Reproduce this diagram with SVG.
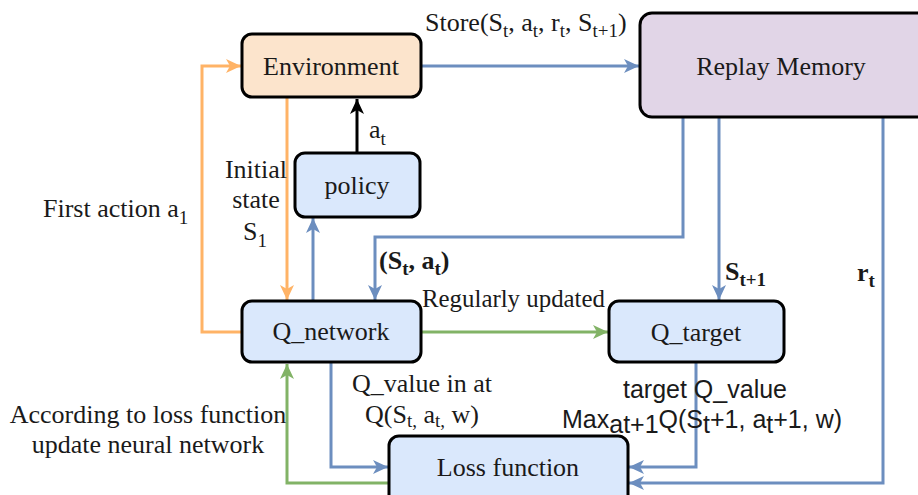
<svg xmlns="http://www.w3.org/2000/svg" width="918" height="495" viewBox="0 0 918 495">
<defs>
<style>
.box{stroke:#000;stroke-width:3}
.t{font-family:"Liberation Serif","Times New Roman",serif;font-size:26px;fill:#1a1a1a}
.s{font-family:"Liberation Sans",Arial,sans-serif;font-size:25px;fill:#1a1a1a}
.b{font-weight:bold}
.sub{font-size:19px}
.blue{stroke:#6c8ebf;stroke-width:3;fill:none}
.orange{stroke:#ffb366;stroke-width:3;fill:none}
.green{stroke:#82b366;stroke-width:3;fill:none}
.black{stroke:#000;stroke-width:3;fill:none}
</style>
<marker id="ab" markerUnits="userSpaceOnUse" markerWidth="16" markerHeight="14" refX="15" refY="7" orient="auto"><path d="M0,0 L15,7 L0,14 L4,7 Z" fill="#6c8ebf"/></marker>
<marker id="ao" markerUnits="userSpaceOnUse" markerWidth="16" markerHeight="14" refX="15" refY="7" orient="auto"><path d="M0,0 L15,7 L0,14 L4,7 Z" fill="#ffb366"/></marker>
<marker id="ag" markerUnits="userSpaceOnUse" markerWidth="16" markerHeight="14" refX="15" refY="7" orient="auto"><path d="M0,0 L15,7 L0,14 L4,7 Z" fill="#82b366"/></marker>
<marker id="ak" markerUnits="userSpaceOnUse" markerWidth="16" markerHeight="14" refX="15" refY="7" orient="auto"><path d="M0,0 L15,7 L0,14 L4,7 Z" fill="#000"/></marker>
</defs>
<rect width="918" height="495" fill="#fff"/>

<g id="connectors">
<path class="blue" d="M421,66 H639" marker-end="url(#ab)"/>
<path class="orange" d="M287,97 V300" marker-end="url(#ao)"/>
<path class="orange" d="M242,332 H202 V66 H241" marker-end="url(#ao)"/>
<path class="black" d="M357,153 V99" marker-end="url(#ak)"/>
<path class="blue" d="M313,301 V218" marker-end="url(#ab)"/>
<path class="blue" d="M683,117 V237 H375 V300" marker-end="url(#ab)"/>
<path class="blue" d="M719,117 V300" marker-end="url(#ab)"/>
<path class="blue" d="M883,117 V483 H629" marker-end="url(#ab)"/>
<path class="green" d="M422,332 H608" marker-end="url(#ag)"/>
<path class="blue" d="M331,362 V467 H388" marker-end="url(#ab)"/>
<path class="blue" d="M696,362 V467 H629" marker-end="url(#ab)"/>
<path class="green" d="M389,483 H287 V364" marker-end="url(#ag)"/>
</g>

<g id="labels">
<text class="t" x="425" y="31">Store(S<tspan class="sub" dy="6">t</tspan><tspan dy="-6">, a</tspan><tspan class="sub" dy="6">t</tspan><tspan dy="-6">, r</tspan><tspan class="sub" dy="6">t</tspan><tspan dy="-6">, S</tspan><tspan class="sub" dy="6">t+1</tspan><tspan dy="-6">)</tspan></text>
<text class="t" x="369" y="138">a<tspan class="sub" dy="7">t</tspan></text>
<text class="t" x="256" y="178" text-anchor="middle">Initial</text>
<text class="t" x="256" y="208" text-anchor="middle">state</text>
<text class="t" x="243" y="240">S<tspan class="sub" dy="7">1</tspan></text>
<text class="t" x="43" y="217">First action a<tspan class="sub" dy="7">1</tspan></text>
<text class="t b" x="379" y="269">(S<tspan class="sub" dy="6">t</tspan><tspan dy="-6">, a</tspan><tspan class="sub" dy="6">t</tspan><tspan dy="-6">)</tspan></text>
<text class="t b" x="725" y="280">S<tspan class="sub" dy="6">t+1</tspan></text>
<text class="t b" x="857" y="281">r<tspan class="sub" dy="6">t</tspan></text>
<text class="t" x="422" y="307" textLength="183" lengthAdjust="spacingAndGlyphs">Regularly updated</text>
<text class="t" x="422" y="392" text-anchor="middle">Q_value in at</text>
<text class="t" x="422" y="423" text-anchor="middle">Q(S<tspan class="sub" dy="4">t,</tspan><tspan dy="-4"> a</tspan><tspan class="sub" dy="4">t,</tspan><tspan dy="-4"> w)</tspan></text>
<text class="t" x="148" y="423" text-anchor="middle">According to loss function</text>
<text class="t" x="148" y="453" text-anchor="middle">update neural network</text>
<text class="s" x="705" y="398" text-anchor="middle">target Q_value</text>
<text class="s" x="562" y="428">Max<tspan dy="5">at+1</tspan><tspan dy="-5">Q(S</tspan><tspan dy="5">t</tspan><tspan dy="-5">+1, a</tspan><tspan dy="5">t</tspan><tspan dy="-5">+1, w)</tspan></text>
</g>

<g id="environment">
<rect class="box" x="242" y="34" width="179" height="63" rx="10" fill="#fce4cc"/>
<text class="t" x="331" y="75" text-anchor="middle">Environment</text>
</g>
<g id="replay-memory">
<rect class="box" x="640" y="13" width="290" height="104" rx="12" fill="#e1d5e7"/>
<text class="t" x="781" y="75" text-anchor="middle">Replay Memory</text>
</g>
<g id="policy">
<rect class="box" x="295" y="153" width="125" height="64" rx="10" fill="#dae8fc"/>
<text class="t" x="357" y="194" text-anchor="middle">policy</text>
</g>
<g id="q-network">
<rect class="box" x="242" y="301" width="179" height="61" rx="10" fill="#dae8fc"/>
<text class="t" x="331" y="340" text-anchor="middle">Q_network</text>
</g>
<g id="q-target">
<rect class="box" x="609" y="301" width="175" height="61" rx="10" fill="#dae8fc"/>
<text class="t" x="696" y="341" text-anchor="middle">Q_target</text>
</g>
<g id="loss-function">
<rect class="box" x="389" y="436" width="239" height="72" rx="10" fill="#dae8fc"/>
<text class="t" x="508" y="476" text-anchor="middle">Loss function</text>
</g>
</svg>
